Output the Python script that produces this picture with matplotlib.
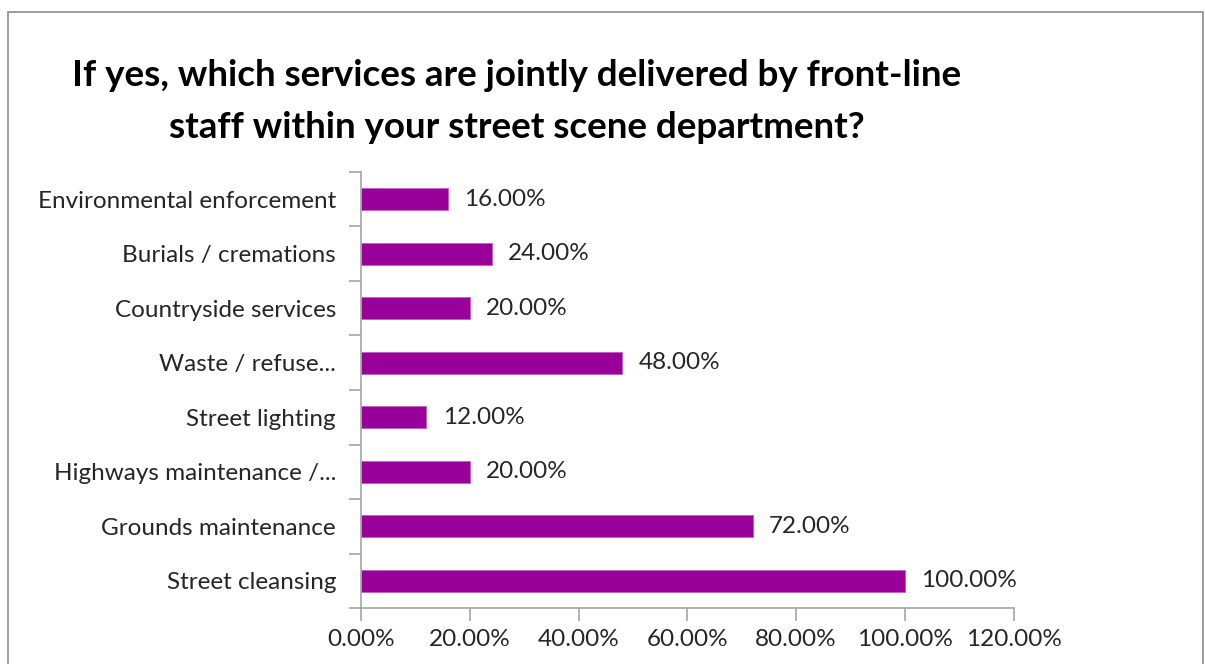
import numpy as np
import matplotlib.pyplot as plt
from matplotlib.patches import Rectangle

FONT = 'Lato'
TEXT_COLOR = '#262626'
AXIS_COLOR = '#a6a6a6'
BAR_COLOR = '#990099'
LABEL_SIZE = 17.5

# data, listed bottom to top
services = ['Street cleansing', 'Grounds maintenance', 'Highways maintenance /...',
            'Street lighting', 'Waste / refuse...', 'Countryside services',
            'Burials / cremations', 'Environmental enforcement']
shares = [100.0, 72.0, 20.0, 12.0, 48.0, 20.0, 24.0, 16.0]
x_ticks = [0, 20, 40, 60, 80, 100, 120]

plt.rcParams['font.family'] = [FONT, 'DejaVu Sans']

fig = plt.figure(figsize=(12.05, 6.64), dpi=100)
# chart area frame
fig.patches.append(Rectangle((8 / 1205, -0.1), 1195 / 1205, 1.1 - 12 / 664,
                             transform=fig.transFigure, fill=False,
                             edgecolor='#8c8c8c', linewidth=1.2))

fig.text(0.429, 0.887, 'If yes, which services are jointly delivered by front-line',
         ha='center', va='center', fontsize=26.5, fontweight='bold', color='black')
fig.text(0.429, 0.808, 'staff within your street scene department?',
         ha='center', va='center', fontsize=26.5, fontweight='bold', color='black')

ax = fig.add_axes([0.2996, 0.0843, 0.5416, 0.6567])
y = np.arange(len(services))
ax.barh(y, shares, height=0.41, color=BAR_COLOR, edgecolor='#c060c0', linewidth=0.6)
for yi, v in zip(y, shares):
    ax.text(v + 3.0, yi, f'{v:.2f}%', va='center', ha='left',
            fontsize=LABEL_SIZE, color=TEXT_COLOR)

ax.set_xlim(0, 120)
ax.set_ylim(-0.5, len(services) - 0.5)
ax.set_xticks(x_ticks)
ax.set_xticklabels([f'{t:.2f}%' for t in x_ticks], fontsize=LABEL_SIZE, color=TEXT_COLOR)
ax.set_yticks(y)
ax.set_yticklabels(services, fontsize=LABEL_SIZE, color=TEXT_COLOR)
ax.set_yticks(np.arange(len(services) + 1) - 0.5, minor=True)
ax.tick_params(axis='y', which='major', length=0, pad=18)
ax.tick_params(axis='y', which='minor', length=9, color=AXIS_COLOR, width=1.2)
ax.tick_params(axis='x', length=9, color=AXIS_COLOR, width=1.2, pad=6)

for side in ['top', 'right']:
    ax.spines[side].set_visible(False)
for side in ['left', 'bottom']:
    ax.spines[side].set_color(AXIS_COLOR)
    ax.spines[side].set_linewidth(1.2)

fig.savefig('out.png', dpi=100)
